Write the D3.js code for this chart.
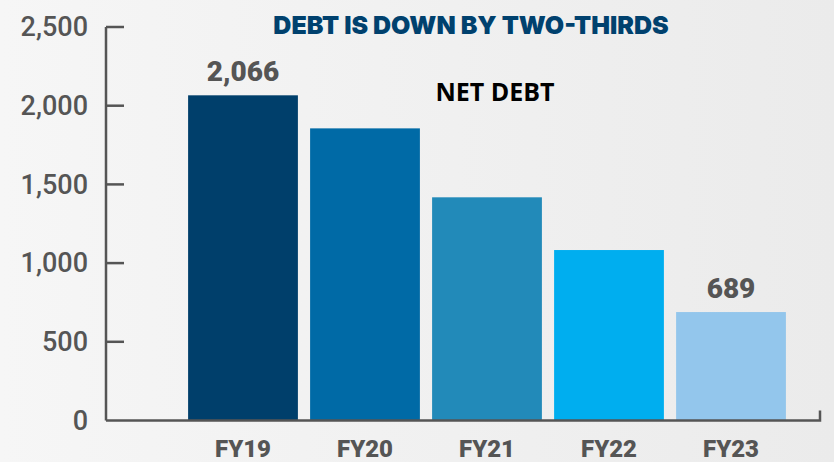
<!DOCTYPE html>
<html>
<head>
<meta charset="utf-8">
<script src="https://cdn.jsdelivr.net/npm/d3@7/dist/d3.min.js"></script>
<style>
  html, body { margin: 0; padding: 0; }
  body { width: 834px; height: 462px; overflow: hidden; }
</style>
</head>
<body>
<script>
const categories = ["FY19", "FY20", "FY21", "FY22", "FY23"];
const netDebt = [2066, 1856, 1418, 1083, 689];
const barColors = ["#003f6b", "#006aa6", "#228ab9", "#00aeef", "#93c6ec"];
const yTicks = [0, 500, 1000, 1500, 2000, 2500];
const valueLabels = ["2,066", null, null, null, "689"];
const title = "DEBT IS DOWN BY TWO-THIRDS";
const subtitle = "NET DEBT";

const W = 834, H = 462;
const svg = d3.select("body").append("svg").attr("width", W).attr("height", H);

const defs = svg.append("defs");
const grad = defs.append("linearGradient").attr("id", "bg").attr("x1", "0").attr("x2", "1").attr("y1", "0").attr("y2", "0");
grad.append("stop").attr("offset", "0").attr("stop-color", "#f6f6f6");
grad.append("stop").attr("offset", "1").attr("stop-color", "#ebebeb");
svg.append("rect").attr("width", W).attr("height", H).attr("fill", "url(#bg)");

const y = d3.scaleLinear().domain([0, 2500]).range([420.5, 27]);
const x = d3.scaleBand().domain(categories).range([182, 792]).paddingInner(0.1).paddingOuter(0.05);

const axisColor = "#555555";

// bars
svg.selectAll("rect.bar").data(categories).enter().append("rect")
  .attr("class", "bar")
  .attr("x", d => x(d))
  .attr("width", x.bandwidth())
  .attr("y", (d, i) => y(netDebt[i]))
  .attr("height", (d, i) => y(0) - y(netDebt[i]))
  .attr("fill", (d, i) => barColors[i]);

// y axis
const yAxis = d3.axisLeft(y).tickValues(yTicks).tickFormat(d3.format(",")).tickSize(0).tickPadding(18);
const gy = svg.append("g").attr("transform", "translate(106,0)").call(yAxis);
gy.select(".domain").remove();
gy.selectAll("text")
  .attr("fill", axisColor)
  .style("font-family", "Roboto, sans-serif")
  .style("font-size", "27px")
  .style("font-weight", "500");
// axis line and ticks
svg.append("line").attr("x1", 106).attr("x2", 106).attr("y1", y(2500)).attr("y2", y(0))
  .attr("stroke", axisColor).attr("stroke-width", 2.5);
svg.selectAll("line.tick").data(yTicks.filter(d => d > 0)).enter().append("line")
  .attr("class", "tick")
  .attr("x1", 106).attr("x2", 124)
  .attr("y1", d => y(d)).attr("y2", d => y(d))
  .attr("stroke", axisColor).attr("stroke-width", 2.5);

// x axis baseline
svg.append("path")
  .attr("d", `M106,${y(0)}H820V${y(0) - 10}`)
  .attr("fill", "none").attr("stroke", axisColor).attr("stroke-width", 2.5);

// x labels
const xAxis = d3.axisBottom(x).tickSize(0).tickPadding(19);
const gx = svg.append("g").attr("transform", `translate(0,${y(0)})`).call(xAxis);
gx.select(".domain").remove();
gx.selectAll("text")
  .attr("fill", axisColor)
  .attr("dy", "0.71em")
  .style("font-family", "Roboto, sans-serif")
  .style("font-size", "24px")
  .style("font-weight", "900");

// value labels
svg.selectAll("text.val").data(categories).enter()
  .filter((d, i) => valueLabels[i] !== null)
  .append("text")
  .attr("class", "val")
  .attr("x", d => x(d) + x.bandwidth() / 2)
  .attr("y", d => y(netDebt[categories.indexOf(d)]) - 14)
  .attr("text-anchor", "middle")
  .attr("fill", axisColor)
  .style("font-family", "Roboto, sans-serif")
  .style("font-size", "28px")
  .style("font-weight", "900")
  .text(d => valueLabels[categories.indexOf(d)]);

// title
svg.append("text")
  .attr("x", 471).attr("y", 34)
  .attr("text-anchor", "middle")
  .attr("fill", "#00416e")
  .style("font-family", "Inter, sans-serif")
  .style("font-size", "25px")
  .style("font-weight", "900")
  .text(title);

svg.append("text")
  .attr("x", 495).attr("y", 101)
  .attr("text-anchor", "middle")
  .attr("fill", "#000000")
  .style("font-family", "'Open Sans', sans-serif")
  .style("font-size", "25px")
  .style("font-weight", "700")
  .text(subtitle);
</script>
</body>
</html>
